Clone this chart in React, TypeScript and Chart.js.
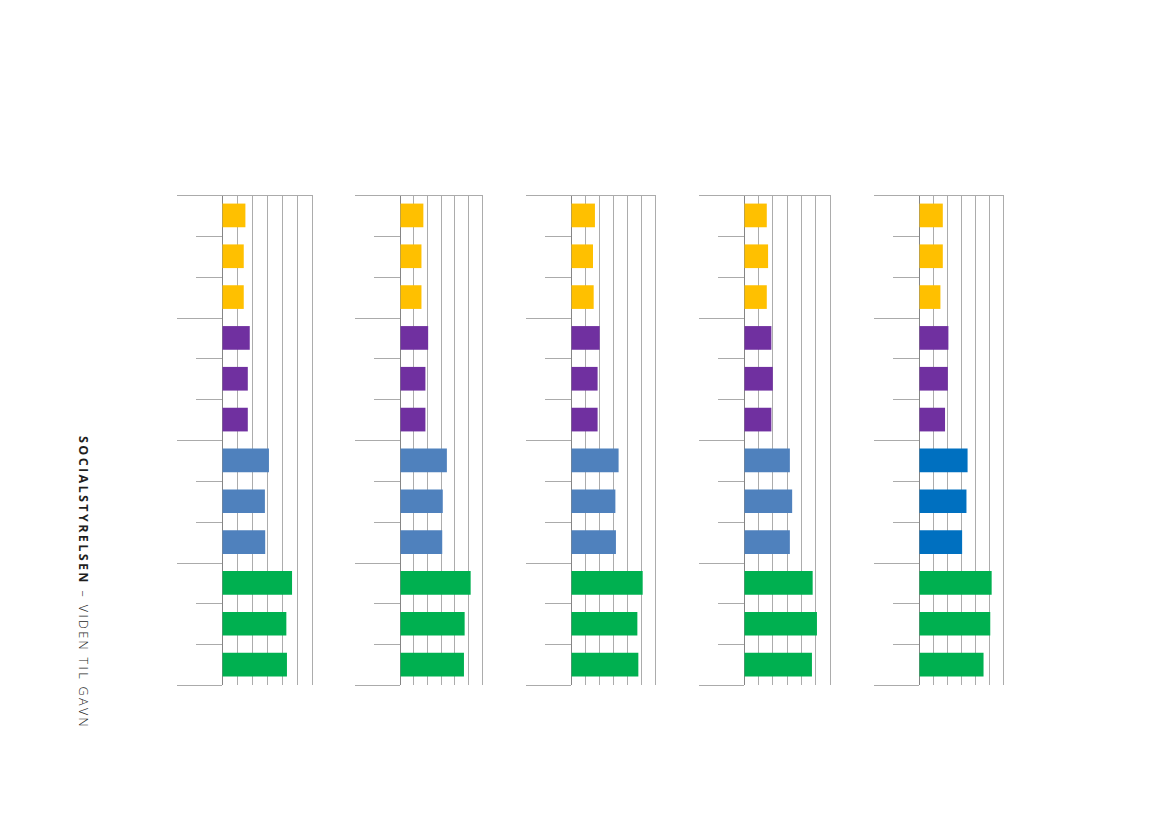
import React, { useEffect, useRef } from 'react';
import { Chart, registerables } from 'chart.js';

Chart.register(...registerables);

// 12 categories, 4 groups of 3 (no labels shown in the original)
const categories = ['A1', 'A2', 'A3', 'B1', 'B2', 'B3', 'C1', 'C2', 'C3', 'D1', 'D2', 'D3'];
const groupSize = 3;

// x axis: 0..6, ticks hidden
const xTicks = [0, 1, 2, 3, 4, 5, 6];

const panel1 = [1.56, 1.45, 1.45, 1.85, 1.72, 1.72, 3.13, 2.86, 2.88, 4.67, 4.29, 4.33];
const panel2 = [1.71, 1.57, 1.57, 2.06, 1.86, 1.86, 3.43, 3.13, 3.09, 5.17, 4.73, 4.68];
const panel3 = [1.71, 1.57, 1.62, 2.05, 1.9, 1.9, 3.4, 3.17, 3.21, 5.12, 4.74, 4.81];
const panel4 = [1.59, 1.68, 1.59, 1.91, 2.01, 1.91, 3.2, 3.36, 3.2, 4.79, 5.09, 4.74];
const panel5 = [1.7, 1.7, 1.53, 2.1, 2.06, 1.86, 3.47, 3.39, 3.08, 5.19, 5.09, 4.61];

const groupColors = ['#FFC000', '#7030A0', '#4F81BD', '#00B050'];
const groupColorsLast = ['#FFC000', '#7030A0', '#0070C0', '#00B050'];

const LONG_TICK = 45;
const SHORT_TICK = 26;
const TICK_COLOR = '#ababab';

const categoryTicks = {
    id: 'categoryTicks',
    afterDraw(chart: Chart) {
        const { ctx, chartArea } = chart;
        const y = chart.scales.y;
        ctx.save();
        ctx.lineWidth = 1;
        ctx.strokeStyle = TICK_COLOR;
        for (let i = 0; i <= categories.length; i++) {
            const py = Math.round(y.getPixelForValue(i - 0.5)) + 0.5;
            const isLong = i % groupSize === 0;
            const x0 = chartArea.left - (isLong ? LONG_TICK : SHORT_TICK);
            const x1 = i === 0 ? chartArea.right : chartArea.left;
            ctx.beginPath();
            ctx.moveTo(x0, py);
            ctx.lineTo(x1, py);
            ctx.stroke();
        }
        ctx.restore();
    },
};

interface PanelProps {
    values: number[];
    colors: string[];
    left: number;
    width: number;
}

const Panel: React.FC<PanelProps> = ({ values, colors, left, width }) => {
    const chartRef = useRef<HTMLCanvasElement>(null);
    const chartInstance = useRef<Chart | null>(null);

    useEffect(() => {
        if (!chartRef.current) return;
        if (chartInstance.current) chartInstance.current.destroy();
        const ctx = chartRef.current.getContext('2d');
        if (!ctx) return;

        chartInstance.current = new Chart(ctx, {
            type: 'bar',
            data: {
                labels: categories,
                datasets: [
                    {
                        data: values,
                        backgroundColor: values.map((_, i) => colors[Math.floor(i / groupSize)]),
                        borderWidth: 0,
                        barPercentage: 0.58,
                        categoryPercentage: 1,
                    },
                ],
            },
            options: {
                indexAxis: 'y',
                animation: false,
                responsive: false,
                maintainAspectRatio: false,
                layout: { padding: { left: 46, right: 4, top: 4, bottom: 4 } },
                plugins: { legend: { display: false }, tooltip: { enabled: false } },
                scales: {
                    x: {
                        type: 'linear',
                        min: xTicks[0],
                        max: xTicks[xTicks.length - 1],
                        ticks: { display: false, stepSize: 1 },
                        grid: {
                            drawTicks: false,
                            color: (c: any) => (c.tick && c.tick.value === 0 ? '#858585' : '#acacac'),
                        },
                        border: { display: false },
                    },
                    y: {
                        type: 'category',
                        display: false,
                        offset: true,
                    },
                },
            },
            plugins: [categoryTicks],
        });

        return () => {
            chartInstance.current?.destroy();
        };
    }, [values, colors]);

    return (
        <canvas
            ref={chartRef}
            width={width + 50}
            height={498}
            style={{ position: 'absolute', left: left - 46, top: 191, width: width + 50, height: 498 }}
        />
    );
};

const App: React.FC = () => {
    return (
        <div style={{ position: 'absolute', left: 0, top: 0, width: 1169, height: 826, background: '#fff', overflow: 'hidden' }}>
            <div
                style={{
                    position: 'absolute',
                    left: 76,
                    top: 436,
                    writingMode: 'vertical-rl',
                    fontFamily: '"Open Sans", sans-serif',
                    fontSize: 12.5,
                    letterSpacing: 2.4,
                    color: '#1e1e1e',
                    whiteSpace: 'nowrap',
                    lineHeight: 1,
                }}
            >
                <span style={{ fontWeight: 700 }}>SOCIALSTYRELSEN</span>
                <span style={{ fontWeight: 300 }}> – VIDEN TIL GAVN</span>
            </div>
            <Panel values={panel1} colors={groupColors} left={222} width={90} />
            <Panel values={panel2} colors={groupColors} left={400} width={82} />
            <Panel values={panel3} colors={groupColors} left={571} width={84} />
            <Panel values={panel4} colors={groupColors} left={744} width={86} />
            <Panel values={panel5} colors={groupColorsLast} left={919} width={84} />
        </div>
    );
};

export default App;
